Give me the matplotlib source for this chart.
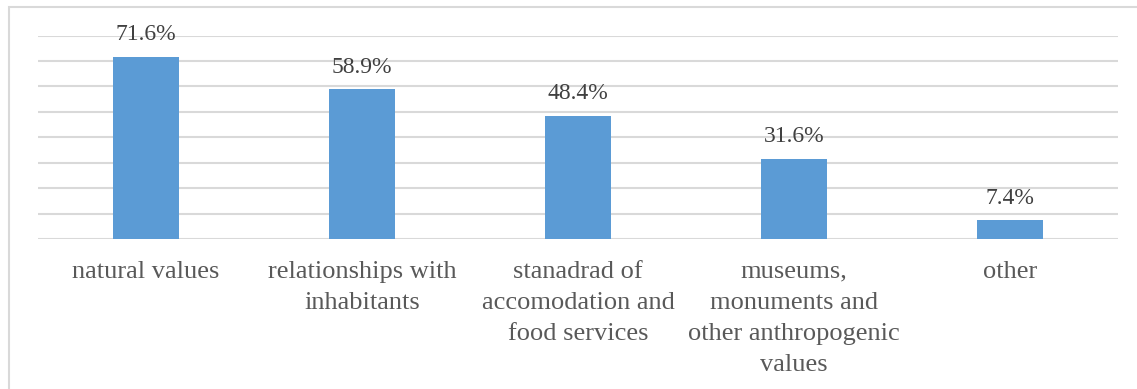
import matplotlib
matplotlib.use("Agg")
import matplotlib.pyplot as plt
from matplotlib.patches import Rectangle

categories = [
    "natural values",
    "relationships with\ninhabitants",
    "stanadrad of\naccomodation and\nfood services",
    "museums,\nmonuments and\nother anthropogenic\nvalues",
    "other",
]
values = [71.6, 58.9, 48.4, 31.6, 7.4]
value_labels = ["71.6%", "58.9%", "48.4%", "31.6%", "7.4%"]

plt.rcParams["font.family"] = ["Liberation Serif", "DejaVu Serif"]

W, H, DPI = 1137, 389, 100
fig = plt.figure(figsize=(W / DPI, H / DPI), dpi=DPI)
fig.patch.set_facecolor("white")

# light frame around the chart area
fig.patches.append(Rectangle((8.5 / W, -0.05), 1.2, 1 - 6.5 / H + 0.05,
                             transform=fig.transFigure, fill=False,
                             edgecolor="#D9D9D9", linewidth=1.5))

left, right = 38 / W, 1118 / W
bottom, top = 1 - 239.3 / H, 1 - 35.5 / H
ax = fig.add_axes([left, bottom, right - left, top - bottom])

x = range(len(categories))
ax.bar(x, values, width=0.31, color="#5B9BD5", zorder=3)

ax.set_xlim(-0.5, len(categories) - 0.5)
ax.set_ylim(0, 80)
ax.set_yticks(range(0, 81, 10))
ax.yaxis.grid(True, color="#D9D9D9", linewidth=1.5, zorder=0)
ax.tick_params(axis="y", left=False, labelleft=False)
ax.tick_params(axis="x", bottom=False, pad=12)
for s in ax.spines.values():
    s.set_visible(False)

ax.set_xticks(list(x))
ax.set_xticklabels(categories, fontsize=19, color="#595959", linespacing=1.53,
                   va="top")

for xi, v, lab in zip(x, values, value_labels):
    ax.annotate(lab, (xi, v), xytext=(0, 12), textcoords="offset points",
                ha="center", va="baseline", fontsize=17, color="#404040")

fig.savefig("out.png", dpi=DPI)
